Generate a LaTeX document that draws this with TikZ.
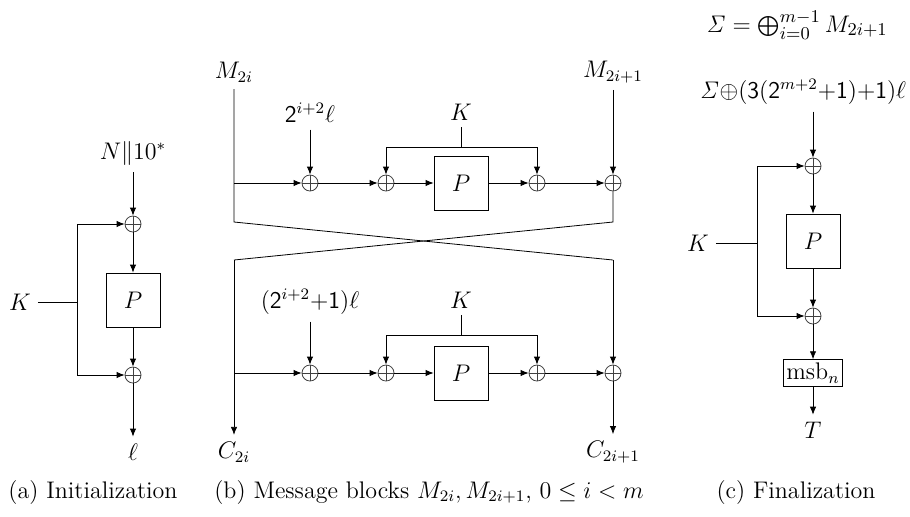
\documentclass[tikz,border=0pt]{standalone}
\usetikzlibrary{arrows.meta}
\begin{document}
\begin{tikzpicture}[x=0.5pt,y=-0.5pt,
  line width=0.4pt,
  lbl/.style={font=\fontsize{12}{14}\selectfont},
  captxt/.style={font=\fontsize{12}{14}\selectfont},
  xor/.style={circle,draw=black!75,minimum size=8pt,inner sep=0pt,
    path picture={\draw[black!75] (path picture bounding box.north) -- (path picture bounding box.south)
      (path picture bounding box.west) -- (path picture bounding box.east);}},
  pbox/.style={draw,minimum width=27pt,minimum height=27pt,inner sep=0pt,font=\fontsize{12}{14}\selectfont},
  msbbox/.style={draw,inner sep=1.6pt,font=\fontsize{12}{14}\selectfont},
  arr/.style={-{Latex[length=4pt,width=3.2pt]}}]
\path[use as bounding box] (0,0) rectangle (910,516);

% ---------- (a) Initialization ----------
\node[lbl] (Na) at (133,153) {$N\|10^*$};
\node[xor] (xa1) at (133,224) {};
\node[pbox] (Pa) at (133,300) {$P$};
\node[xor] (xa2) at (133,375) {};
\node[lbl] (la) at (133,452) {$\ell$};
\node[lbl] (Ka) at (20,302) {$K$};
\coordinate (ja) at (77,302);
\draw[arr] (Na) -- (xa1);
\draw[arr] (xa1) -- (Pa);
\draw[arr] (Pa) -- (xa2);
\draw[arr] (xa2) -- (la);
\draw (Ka) -- (ja);
\draw[arr] (ja) |- (xa1);
\draw[arr] (ja) |- (xa2);

% ---------- (b) Message blocks ----------
\node[lbl] (M0) at (234,72) {$M_{2i}$};
\node[lbl] (M1) at (613,72) {$M_{2i+1}$};
% top row
\node[lbl] (Lt) at (310,113) {$\mathsf{2}^{i+2}\ell$};
\node[lbl] (Kt) at (461,112) {$K$};
\node[xor] (xb1) at (310,183) {};
\node[xor] (xb2) at (386,183) {};
\node[pbox] (Pb) at (461,183) {$P$};
\node[xor] (xb3) at (537,183) {};
\node[xor] (xb4) at (613,183) {};
\coordinate (Lb1) at (234,183);
\coordinate (kt) at (461,147);
\coordinate (L1) at (234,222);
\coordinate (R1) at (613,222);
\coordinate (L2) at (234,260);
\coordinate (R2) at (613,260);
\draw (M0.south) -- (L1) -- (R2);
\draw[arr] (M1.south) -- (xb4);
\draw (xb4) -- (R1) -- (L2);
\draw[arr] (Lt) -- (xb1);
\draw[arr] (Lb1) -- (xb1);
\draw[arr] (xb1) -- (xb2);
\draw[arr] (xb2) -- (Pb);
\draw[arr] (Pb) -- (xb3);
\draw[arr] (xb3) -- (xb4);
\draw (Kt) -- (kt);
\draw[arr] (kt) -| (xb2);
\draw[arr] (kt) -| (xb3);
% bottom row
\node[lbl] (Lc) at (310,302) {$(\mathsf{2}^{i+2}{+}\mathsf{1})\ell$};
\node[lbl] (Kc) at (461,300) {$K$};
\node[xor] (xc1) at (310,373) {};
\node[xor] (xc2) at (386,373) {};
\node[pbox] (Pc) at (461,373) {$P$};
\node[xor] (xc3) at (537,373) {};
\node[xor] (xc4) at (613,373) {};
\coordinate (Lb2) at (234,373);
\coordinate (kc) at (461,335);
\node[lbl] (C0) at (234,452) {$C_{2i}$};
\node[lbl] (C1) at (613,452) {$C_{2i+1}$};
\draw[arr] (L2) -- (C0);
\draw[arr] (R2) -- (xc4);
\draw[arr] (xc4) -- (C1);
\draw[arr] (Lc) -- (xc1);
\draw[arr] (Lb2) -- (xc1);
\draw[arr] (xc1) -- (xc2);
\draw[arr] (xc2) -- (Pc);
\draw[arr] (Pc) -- (xc3);
\draw[arr] (xc3) -- (xc4);
\draw (Kc) -- (kc);
\draw[arr] (kc) -| (xc2);
\draw[arr] (kc) -| (xc3);

% ---------- (c) Finalization ----------
\node[font=\fontsize{13}{15}\selectfont,inner sep=0pt] (Sd) at (797,25) {$\mathit{\Sigma}=\bigoplus_{i=0}^{m-1}M_{2i+1}$};
\node[lbl] (Sl) at (803,92) {$\mathit{\Sigma}{\oplus}(\mathsf{3}(\mathsf{2}^{m+2}{+}\mathsf{1}){+}\mathsf{1})\ell$};
\node[xor] (xf1) at (813,166) {};
\node[pbox] (Pf) at (813,241) {$P$};
\node[xor] (xf2) at (813,316) {};
\node[msbbox] (ms) at (813,373) {$\mathrm{msb}_n$};
\node[lbl] (Tf) at (813,430) {$T$};
\node[lbl] (Kf) at (698,243) {$K$};
\coordinate (jf) at (757,243);
\draw[arr] (Sl.south -| xf1) -- (xf1);
\draw[arr] (xf1) -- (Pf);
\draw[arr] (Pf) -- (xf2);
\draw[arr] (xf2) -- (ms);
\draw[arr] (ms) -- (Tf);
\draw (Kf) -- (jf);
\draw[arr] (jf) |- (xf1);
\draw[arr] (jf) |- (xf2);

% ---------- captions ----------
\node[captxt] (ca) at (93,492) {(a) Initialization};
\node[captxt] (cb) at (429,492) {(b) Message blocks $M_{2i}, M_{2i+1}$, $0\leq i<m$};
\node[captxt] (cc) at (796,492) {(c) Finalization};
\end{tikzpicture}
\end{document}
